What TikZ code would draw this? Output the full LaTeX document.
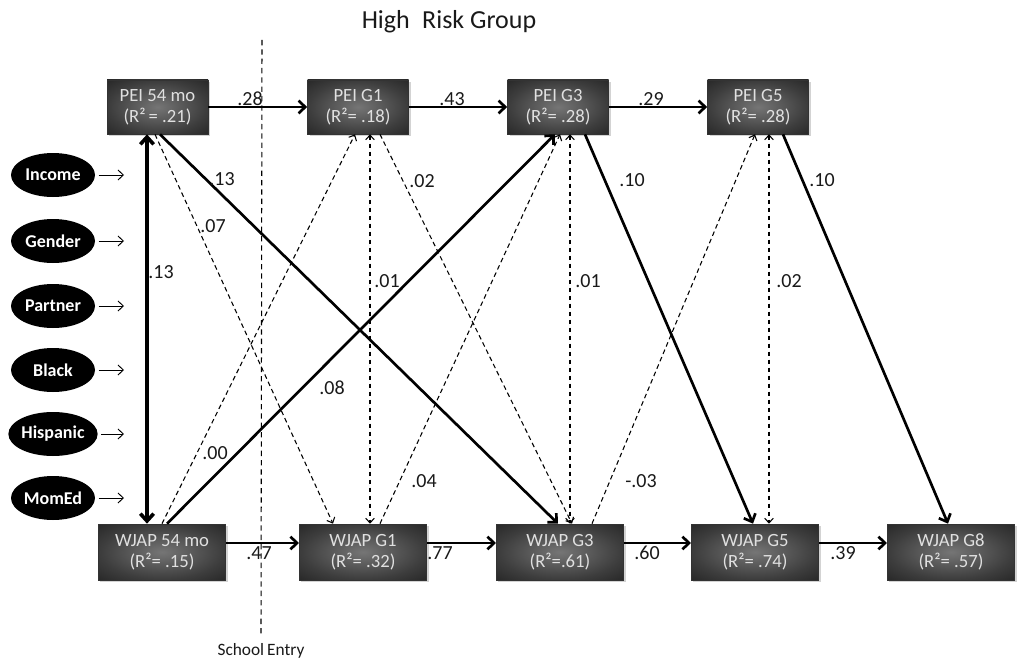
\documentclass[tikz,border=0pt]{standalone}
\usepackage{fontspec}
\setmainfont{Carlito}
\usetikzlibrary{arrows.meta,shadows,calc,shapes.geometric}
\definecolor{boxin}{gray}{0.46}
\definecolor{boxmid}{gray}{0.24}
\definecolor{boxout}{gray}{0.05}
\definecolor{boxtext}{gray}{0.88}
\definecolor{labtext}{gray}{0.10}
\pgfdeclareradialshading{boxshade}{\pgfpoint{0bp}{0bp}}{color(0bp)=(boxin); color(24bp)=(boxmid); color(50bp)=(boxout); color(80bp)=(boxout)}
\begin{document}
\begin{tikzpicture}[x=0.75pt,y=-0.75pt,
  boxbase/.style={rectangle, draw=black!80, line width=0.5pt, shading=boxshade,
    text=boxtext, align=center, inner sep=0pt,
    font=\fontsize{14}{16}\selectfont,
    drop shadow={shadow xshift=1.5pt, shadow yshift=-1.5pt, opacity=0.35}},
  topbox/.style={boxbase, minimum width=75.75pt, minimum height=40.5pt},
  botbox/.style={boxbase, minimum width=95.5pt, minimum height=42pt},
  covar/.style={ellipse, fill=black, text=white, inner sep=0pt,
    minimum width=63pt, minimum height=33pt,
    font=\fontsize{13.5}{15}\selectfont\bfseries},
  lab/.style={text=labtext, inner sep=0pt, font=\fontsize{15}{16}\selectfont},
  solidarrow/.style={line width=2pt, -{Straight Barb[length=5pt,width=9.5pt,line width=2pt]}},
  dasharrow/.style={line width=0.8pt, dash pattern=on 3.5pt off 2.5pt,
    -{Straight Barb[length=3.5pt,width=6.5pt,line width=0.8pt]}},
  dashdouble/.style={line width=0.8pt, dash pattern=on 3.5pt off 2.5pt,
    {Straight Barb[length=3.5pt,width=6.5pt,line width=0.8pt]}-{Straight Barb[length=3.5pt,width=6.5pt,line width=0.8pt]}},
  bigdouble/.style={line width=2.7pt,
    {Straight Barb[length=5.5pt,width=10pt,line width=2.7pt]}-{Straight Barb[length=5.5pt,width=10pt,line width=2.7pt]}},
  covarrow/.style={line width=0.7pt, -{Straight Barb[length=4pt,width=7.5pt,line width=0.7pt]}}
]
\useasboundingbox (0,0) rectangle (1018,660);

% title
\node[lab, font=\fontsize{19.5}{22}\selectfont] (title) at (449,22) {High\hspace{0.25em} Risk Group};

% school entry line
\coordinate (seTop) at (262,40);
\node[lab, font=\fontsize{13}{15}\selectfont] (seLab) at (261,651) {School\hspace{-0.05em} Entry};
\draw[line width=0.8pt, dash pattern=on 4pt off 3pt] (seTop) -- ([yshift=6pt]seLab.north);

% top row
\node[topbox] (PEI54) at (157.5,107) {PEI 54 mo\\(R²\,= .21)};
\node[topbox] (PEIG1) at (358,107) {PEI G1\\(R²= .18)};
\node[topbox] (PEIG3) at (558,107) {PEI G3\\(R²= .28)};
\node[topbox] (PEIG5) at (758,107) {PEI G5\\(R²= .28)};

% bottom row
\node[botbox] (W54) at (162,552) {WJAP 54 mo\\(R²= .15)};
\node[botbox] (WG1) at (363,552) {WJAP G1\\(R²= .32)};
\node[botbox] (WG3) at (560,552) {WJAP G3\\(R²=.61)};
\node[botbox] (WG5) at (755,552) {WJAP G5\\(R²= .74)};
\node[botbox] (WG8) at (951,552) {WJAP G8\\(R²= .57)};

% covariates
\node[covar] (inc) at (53,175) {Income};
\node[covar] (gen) at (53,241) {Gender};
\node[covar] (par) at (53,306) {Partner};
\node[covar] (bla) at (53,370) {Black};
\node[covar] (his) at (53,434) {Hispanic};
\node[covar] (mom) at (53,498) {MomEd};
\coordinate (incE) at (124,175);
\coordinate (genE) at (124,241);
\coordinate (parE) at (124,306);
\coordinate (blaE) at (124,370);
\coordinate (hisE) at (124,434);
\coordinate (momE) at (124,498);
\foreach \c in {inc,gen,par,bla,his,mom}{
  \draw[covarrow] ([xshift=2.5pt]\c.east) -- (\c E);
}

% horizontal paths
\draw[solidarrow] (PEI54.east) -- (PEIG1.west);
\draw[solidarrow] (PEIG1.east) -- (PEIG3.west);
\draw[solidarrow] (PEIG3.east) -- (PEIG5.west);
\draw[solidarrow] ($(W54.east)+(0,-9)$) -- ($(WG1.west)+(0,-9)$);
\draw[solidarrow] ($(WG1.east)+(0,-9)$) -- ($(WG3.west)+(0,-9)$);
\draw[solidarrow] ($(WG3.east)+(0,-9)$) -- ($(WG5.west)+(0,-9)$);
\draw[solidarrow] ($(WG5.east)+(0,-9)$) -- ($(WG8.west)+(0,-9)$);

% left correlation
\draw[bigdouble] ($(PEI54.south)+(-10.5,0)$) -- ($(W54.north)+(-15,0)$);

% cross paths
\draw[dasharrow] ($(PEI54.south)+(-2.5,0)$) -- ($(WG1.north)+(-30,0)$);
\draw[dasharrow] ($(W54.north)+(0,0)$) -- ($(PEIG1.south)+(-3,0)$);
\draw[dashdouble] ($(PEIG1.south)+(12,0)$) -- ($(WG1.north)+(7,0)$);
\draw[dasharrow] ($(PEIG1.south)+(22,0)$) -- ($(WG3.north)+(12,0)$);
\draw[dasharrow] ($(WG1.north)+(17,0)$) -- ($(PEIG3.south)+(2,0)$);
\draw[dashdouble] ($(PEIG3.south)+(12,0)$) -- ($(WG3.north)+(10,0)$);
\draw[dasharrow] ($(WG3.north)+(32,0)$) -- ($(PEIG5.south)+(-3,0)$);
\draw[dashdouble] ($(PEIG5.south)+(11,0)$) -- ($(WG5.north)+(14,0)$);
\draw[solidarrow] ($(PEI54.south)+(2.5,0)$) -- ($(WG3.north)+(-2,0)$);
\draw[solidarrow] ($(W54.north)+(5,0)$) -- ($(PEIG3.south)+(-3,0)$);
\draw[solidarrow] ($(PEIG3.south)+(27,0)$) -- ($(WG5.north)+(-2,0)$);
\draw[solidarrow] ($(PEIG5.south)+(25,0)$) -- ($(WG8.north)+(-3,0)$);

% labels
\node[lab] (l28) at (250,99) {.28};
\node[lab] (l43) at (452,99) {.43};
\node[lab] (l29) at (651,99) {.29};
\node[lab] (l47) at (259,553) {.47};
\node[lab] (l77) at (440,553) {.77};
\node[lab] (l60) at (647,553) {.60};
\node[lab] (l39) at (843,553) {.39};
\node[lab] (l13a) at (222,179) {.13};
\node[lab] (l07) at (213,226) {.07};
\node[lab] (l13b) at (161,272) {.13};
\node[lab] (l01a) at (387,281) {.01};
\node[lab] (l02a) at (422,181) {.02};
\node[lab] (l08) at (332,388) {.08};
\node[lab] (l00) at (215,453) {.00};
\node[lab] (l04) at (424,481) {.04};
\node[lab] (l01b) at (588,281) {.01};
\node[lab] (l10a) at (632,180) {.10};
\node[lab] (l03) at (641,481) {-.03};
\node[lab] (l02b) at (789,281) {.02};
\node[lab] (l10b) at (822,180) {.10};
\end{tikzpicture}
\end{document}
